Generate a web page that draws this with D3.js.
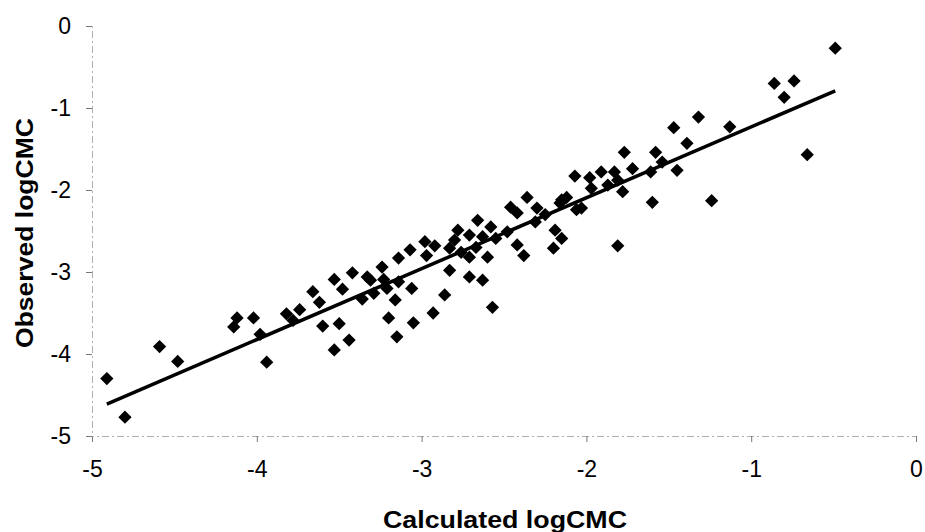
<!DOCTYPE html>
<meta charset="utf-8">
<html>
<body style="margin:0;background:#fff">
<div id="chartContainer"></div>
<script src="https://cdn.jsdelivr.net/npm/d3@7"></script>
<script type="text/javascript">

  // calculated logCMC (x) and observed logCMC (y)
  var calcX = [-4.91, -4.80, -4.59, -4.48, -4.12, -4.14, -4.02, -3.98, -3.94, -3.82,
               -3.78, -3.74, -3.66, -3.62, -3.60, -3.50, -3.53, -3.44, -3.53, -3.48,
               -3.42, -3.33, -3.36, -3.24, -3.23, -3.21, -3.14, -3.14, -3.16, -3.20,
               -3.15, -3.07, -3.06, -2.98, -2.92, -2.97, -2.93, -3.05, -2.86, -2.83,
               -2.83, -2.78, -2.76, -2.71, -2.71, -2.71, -2.66, -2.63, -2.63, -2.60,
               -2.58, -2.57, -2.55, -2.48, -2.46, -2.42, -2.42, -2.38, -2.36, -2.30,
               -2.31, -2.15, -2.19, -2.15, -2.20, -2.12, -2.07, -2.06, -2.03, -1.98,
               -1.97, -1.91, -1.87, -1.83, -1.81, -1.78, -1.77, -1.72, -1.61, -1.58,
               -1.54, -1.45, -1.60, -1.81, -1.47, -1.39, -1.32, -1.24, -1.13, -0.86,
               -0.74, -0.80, -0.66, -0.49, -3.31, -3.29, -2.80, -2.67, -2.25, -2.16];
  var obsY  = [-4.30, -4.77, -3.91, -4.09, -3.56, -3.67, -3.56, -3.76, -4.10, -3.51,
               -3.59, -3.46, -3.24, -3.37, -3.66, -3.63, -3.95, -3.83, -3.09, -3.21,
               -3.01, -3.06, -3.33, -2.94, -3.09, -3.20, -2.83, -3.12, -3.34, -3.56,
               -3.79, -2.73, -3.20, -2.63, -2.68, -2.80, -3.50, -3.62, -3.28, -2.71,
               -2.98, -2.49, -2.76, -2.55, -2.82, -3.06, -2.37, -3.10, -2.57, -2.82,
               -2.45, -3.43, -2.59, -2.51, -2.21, -2.28, -2.67, -2.80, -2.09, -2.22,
               -2.39, -2.12, -2.49, -2.59, -2.71, -2.09, -1.83, -2.24, -2.22, -1.85,
               -1.98, -1.78, -1.94, -1.78, -1.88, -2.02, -1.54, -1.74, -1.78, -1.54,
               -1.66, -1.76, -2.15, -2.68, -1.24, -1.43, -1.11, -2.13, -1.23, -0.70,
               -0.67, -0.87, -1.57, -0.27, -3.10, -3.26, -2.61, -2.70, -2.30, -2.16];

  // fitted line ends
  var fitX = [-4.91, -0.49];
  var fitY = [-4.61, -0.79];

  var xTicks = [-5, -4, -3, -2, -1, 0];
  var yTicks = [-5, -4, -3, -2, -1, 0];

  var points = calcX.map(function (d, i) { return { x: d, y: obsY[i] }; });

  var svg = d3.select("#chartContainer").append("svg")
    .attr("width", 925)
    .attr("height", 532);

  var x = d3.scaleLinear().domain([-5, 0]).range([92, 916]);
  var y = d3.scaleLinear().domain([-5, 0]).range([436, 26]);

  // plain hyphen for negatives, like the original
  var fmt = function (d) { return String(d); };

  // x axis
  var gx = svg.append("g")
    .attr("transform", "translate(0,436)")
    .call(d3.axisBottom(x).tickValues(xTicks).tickSize(6).tickPadding(19).tickFormat(fmt));

  // y axis
  var gy = svg.append("g")
    .attr("transform", "translate(92,0)")
    .call(d3.axisLeft(y).tickValues(yTicks).tickSize(6).tickPadding(15).tickFormat(fmt));

  [gx, gy].forEach(function (g) {
    g.select(".domain").attr("stroke", "#b0b0b0").attr("stroke-dasharray", "7,3,2,3");
    g.selectAll(".tick line").attr("stroke", "#777");
    g.selectAll("text")
      .style("font-family", "Liberation Sans, Arial, sans-serif")
      .style("font-size", "23px")
      .attr("fill", "#000");
  });
  gx.selectAll("text").attr("dy", "0.71em");

  // axis titles
  svg.append("text")
    .attr("x", 505)
    .attr("y", 528)
    .attr("text-anchor", "middle")
    .attr("textLength", 244)
    .attr("lengthAdjust", "spacingAndGlyphs")
    .style("font-family", "Liberation Sans, Arial, sans-serif")
    .style("font-size", "24px")
    .style("font-weight", "bold")
    .text("Calculated logCMC");

  svg.append("text")
    .attr("transform", "translate(33,233) rotate(-90)")
    .attr("text-anchor", "middle")
    .attr("textLength", 230)
    .attr("lengthAdjust", "spacingAndGlyphs")
    .style("font-family", "Liberation Sans, Arial, sans-serif")
    .style("font-size", "24px")
    .style("font-weight", "bold")
    .text("Observed logCMC");

  // regression line
  svg.append("line")
    .attr("x1", x(fitX[0]))
    .attr("y1", y(fitY[0]))
    .attr("x2", x(fitX[1]))
    .attr("y2", y(fitY[1]))
    .attr("stroke", "#000")
    .attr("stroke-width", 3.5);

  // diamond markers
  svg.selectAll("path.pt")
    .data(points)
    .enter()
    .append("path")
    .attr("class", "pt")
    .attr("d", d3.symbol(d3.symbolSquare, 88))
    .attr("transform", function (d) { return "translate(" + x(d.x) + "," + y(d.y) + ") rotate(45)"; })
    .attr("fill", "#000");

</script>
</body>
</html>
